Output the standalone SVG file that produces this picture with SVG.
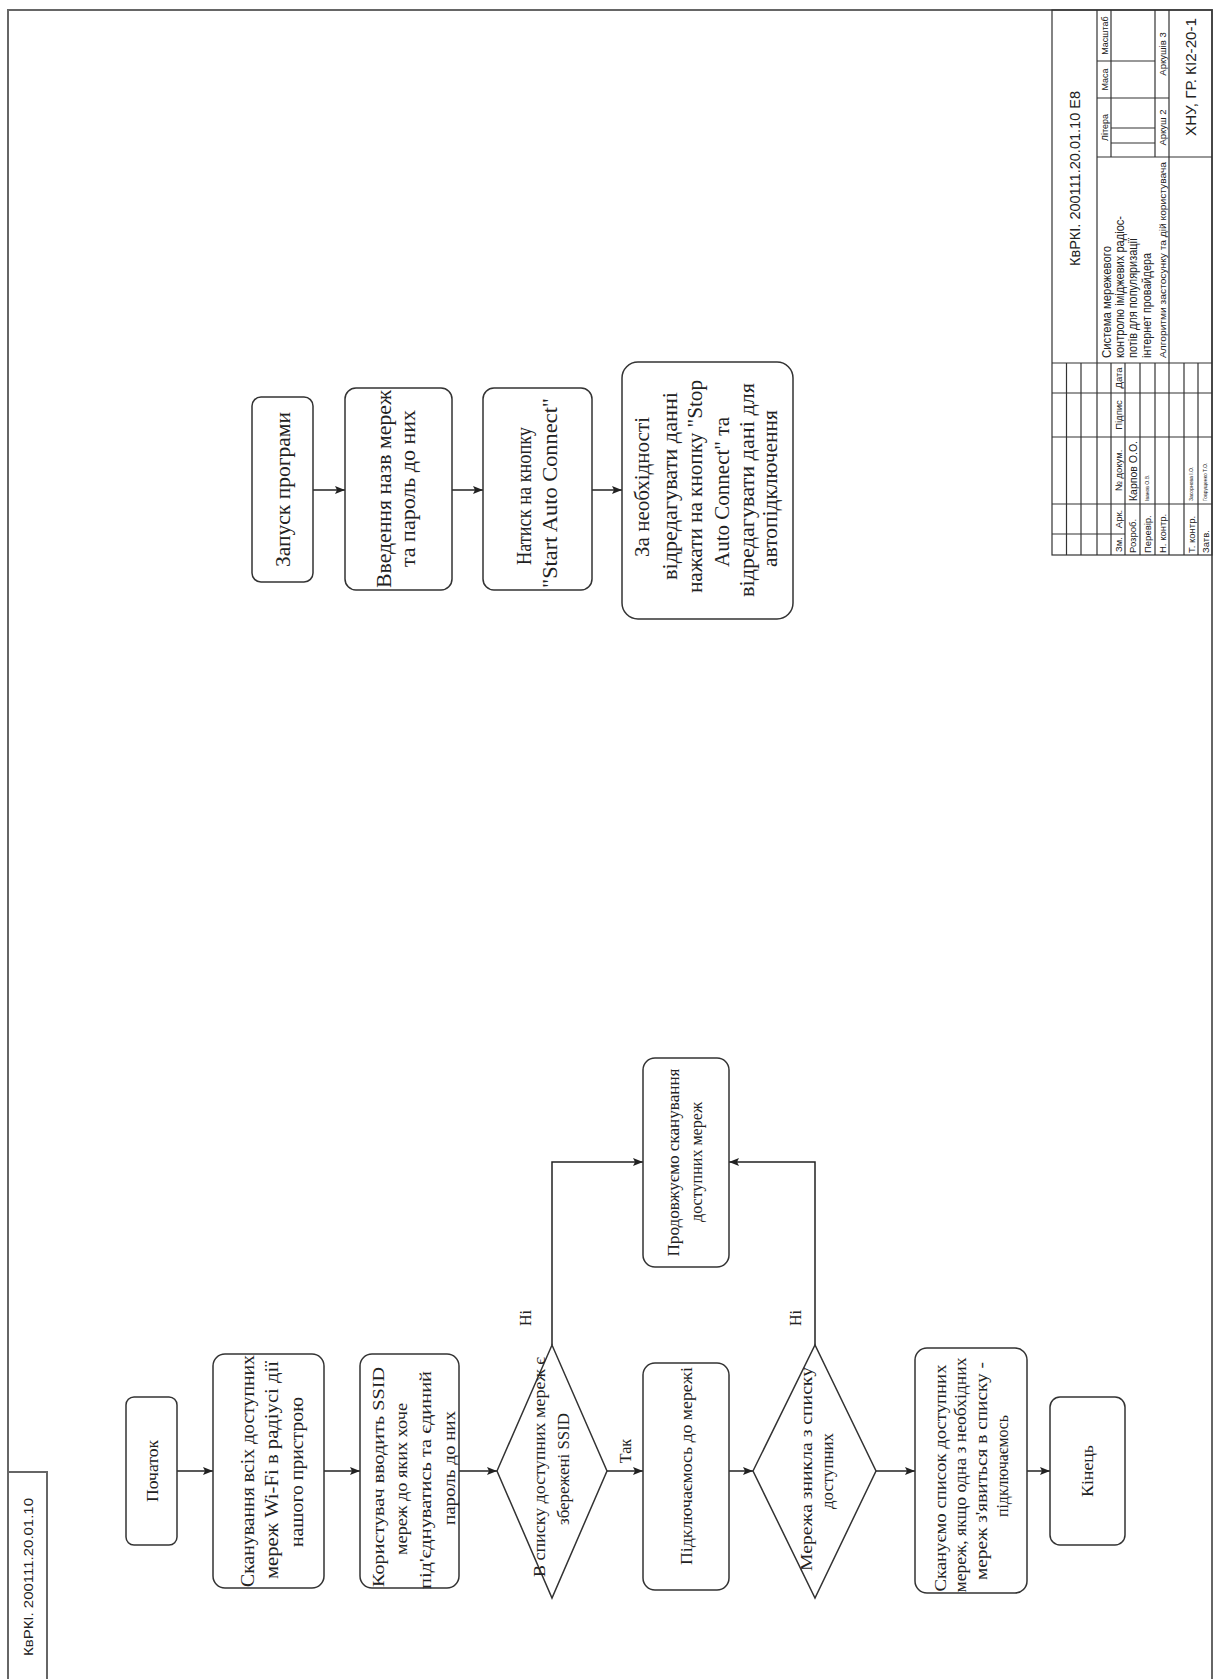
<svg xmlns="http://www.w3.org/2000/svg" width="1213" height="1679" viewBox="0 0 1213 1679">
<style>
.frame{fill:none;stroke:#666;stroke-width:2}
.tb{fill:none;stroke:#333;stroke-width:1.2}
.node{fill:#fff;stroke:#333;stroke-width:1.5}
.conn{fill:none;stroke:#222;stroke-width:1.5}
.ft{font-family:"Liberation Serif","Times New Roman",serif;fill:#222;text-anchor:middle}
.st{font-family:"Liberation Sans",Arial,sans-serif;fill:#222}
.mid{text-anchor:middle}
</style>
<defs>
<marker id="arr" markerWidth="11" markerHeight="9" refX="10" refY="4" orient="auto" markerUnits="userSpaceOnUse">
<path d="M0,0 L10,4 L0,8 L2,4 z" fill="#222"/>
</marker>
</defs>
<rect width="1213" height="1679" fill="#fff"/>
<rect class="frame" x="8" y="10" width="1204" height="1675"/>

<g id="stamp-left">
<rect class="frame" x="8" y="1472" width="39" height="213"/>
<text class="st mid" transform="translate(33 1577) rotate(-90)" font-size="13" textLength="158" lengthAdjust="spacingAndGlyphs">КвРКІ. 200111.20.01.10</text>
</g>

<g id="title-block">
<g class="tb">
<rect x="1052" y="10" width="160" height="545"/>
<line x1="1066.5" y1="363" x2="1066.5" y2="555"/>
<line x1="1081" y1="363" x2="1081" y2="555"/>
<line x1="1097" y1="10" x2="1097" y2="555"/>
<line x1="1111" y1="363" x2="1111" y2="555"/>
<line x1="1111" y1="10" x2="1111" y2="157"/>
<line x1="1125" y1="363" x2="1125" y2="555"/>
<line x1="1140" y1="363" x2="1140" y2="555"/>
<line x1="1155" y1="363" x2="1155" y2="555"/>
<line x1="1155" y1="10" x2="1155" y2="157"/>
<line x1="1169" y1="10" x2="1169" y2="555"/>
<line x1="1184" y1="363" x2="1184" y2="555"/>
<line x1="1198" y1="363" x2="1198" y2="555"/>
<line x1="1097" y1="61" x2="1155" y2="61"/>
<line x1="1097" y1="98" x2="1169" y2="98"/>
<line x1="1097" y1="157" x2="1212" y2="157"/>
<line x1="1111" y1="128" x2="1155" y2="128"/>
<line x1="1111" y1="143" x2="1155" y2="143"/>
<line x1="1052" y1="363" x2="1212" y2="363"/>
<line x1="1052" y1="393" x2="1212" y2="393"/>
<line x1="1052" y1="437" x2="1212" y2="437"/>
<line x1="1052" y1="504" x2="1212" y2="504"/>
<line x1="1052" y1="534" x2="1125" y2="534"/>
</g>
<g class="st" font-size="9.5">
<text class="mid" transform="translate(1080 178.5) rotate(-90)" font-size="15" textLength="175" lengthAdjust="spacingAndGlyphs">КвРКІ. 200111.20.01.10 Е8</text>
<text class="mid" transform="translate(1121.5 544.5) rotate(-90)">Зм.</text>
<text class="mid" transform="translate(1121.5 519) rotate(-90)">Арк.</text>
<text class="mid" transform="translate(1121.5 470.5) rotate(-90)">№ докум.</text>
<text class="mid" transform="translate(1121.5 415) rotate(-90)">Підпис</text>
<text class="mid" transform="translate(1121.5 378) rotate(-90)">Дата</text>
<text transform="translate(1136 553) rotate(-90)">Розроб.</text>
<text transform="translate(1136.5 501) rotate(-90)" font-size="10.5">Карпов О.О.</text>
<text transform="translate(1151 553) rotate(-90)">Перевір.</text>
<text transform="translate(1149 501) rotate(-90)" font-size="5">Іванов О.В.</text>
<text transform="translate(1165.5 553) rotate(-90)">Н. контр.</text>
<text transform="translate(1194.5 553) rotate(-90)">Т. контр.</text>
<text transform="translate(1193 501) rotate(-90)" font-size="5">Засорнова І.О.</text>
<text transform="translate(1208.5 553) rotate(-90)">Затв.</text>
<text transform="translate(1207 501) rotate(-90)" font-size="5">Говрущенко Т.О.</text>
<text transform="translate(1111 358) rotate(-90)" font-size="12" textLength="112" lengthAdjust="spacingAndGlyphs">Система мережевого</text>
<text transform="translate(1124 358) rotate(-90)" font-size="12" textLength="142" lengthAdjust="spacingAndGlyphs">контролю іміджевих радіос-</text>
<text transform="translate(1137 358) rotate(-90)" font-size="12" textLength="120" lengthAdjust="spacingAndGlyphs">потів для популяризації</text>
<text transform="translate(1151 358) rotate(-90)" font-size="12" textLength="105" lengthAdjust="spacingAndGlyphs">інтернет провайдера</text>
<text transform="translate(1165.5 358) rotate(-90)" font-size="9.5" textLength="196" lengthAdjust="spacingAndGlyphs">Алгоритми застосунку та дій користувача</text>
<text class="mid" transform="translate(1107.5 127.5) rotate(-90)" font-size="9">Літера</text>
<text class="mid" transform="translate(1107.5 79.5) rotate(-90)" font-size="9">Маса</text>
<text class="mid" transform="translate(1107.5 35.5) rotate(-90)" font-size="9">Масштаб</text>
<text class="mid" transform="translate(1165.5 127.5) rotate(-90)">Аркуш 2</text>
<text class="mid" transform="translate(1165.5 54) rotate(-90)">Аркушів 3</text>
<text class="mid" transform="translate(1196 77) rotate(-90)" font-size="15" textLength="118" lengthAdjust="spacingAndGlyphs">ХНУ, ГР. КІ2-20-1</text>
</g>
</g>

<g id="connectors" class="conn">
<line x1="313" y1="490" x2="345" y2="490" marker-end="url(#arr)"/>
<line x1="452" y1="490" x2="483" y2="490" marker-end="url(#arr)"/>
<line x1="592" y1="490" x2="622" y2="490" marker-end="url(#arr)"/>
<line x1="177" y1="1471" x2="213" y2="1471" marker-end="url(#arr)"/>
<line x1="324" y1="1471" x2="360" y2="1471" marker-end="url(#arr)"/>
<line x1="459" y1="1471" x2="497" y2="1471" marker-end="url(#arr)"/>
<line x1="607" y1="1471" x2="643" y2="1471" marker-end="url(#arr)"/>
<line x1="729" y1="1471" x2="753" y2="1471" marker-end="url(#arr)"/>
<line x1="876" y1="1471" x2="915" y2="1471" marker-end="url(#arr)"/>
<line x1="1027" y1="1471" x2="1050" y2="1471" marker-end="url(#arr)"/>
<polyline points="552,1345 552,1162 643,1162" marker-end="url(#arr)"/>
<polyline points="815,1345 815,1162 729,1162" marker-end="url(#arr)"/>
<text class="ft" stroke="none" transform="translate(630.5 1451) rotate(-90)" font-size="16">Так</text>
<text class="ft" stroke="none" transform="translate(530.5 1318) rotate(-90)" font-size="16">Ні</text>
<text class="ft" stroke="none" transform="translate(800.5 1318) rotate(-90)" font-size="16">Ні</text>
</g>

<g id="n-start-program">
<rect class="node" x="252" y="397" width="61" height="185" rx="9"/>
<text class="ft" font-size="20" transform="translate(290 489.5) rotate(-90)" textLength="155" lengthAdjust="spacingAndGlyphs">Запуск програми</text>
</g>
<g id="n-enter-names">
<rect class="node" x="345" y="388" width="107" height="202" rx="11"/>
<text class="ft" font-size="20" transform="translate(391 489) rotate(-90)" textLength="198" lengthAdjust="spacingAndGlyphs">Введення назв мереж</text>
<text class="ft" font-size="20" transform="translate(415 488.5) rotate(-90)" textLength="157" lengthAdjust="spacingAndGlyphs">та пароль до них</text>
</g>
<g id="n-press-start">
<rect class="node" x="483" y="388" width="109" height="202" rx="11"/>
<text class="ft" font-size="20" transform="translate(531 496) rotate(-90)" textLength="138" lengthAdjust="spacingAndGlyphs">Натиск на кнопку</text>
<text class="ft" font-size="20" transform="translate(557 493) rotate(-90)" textLength="190" lengthAdjust="spacingAndGlyphs">"Start Auto Connect"</text>
</g>
<g id="n-edit-stop">
<rect class="node" x="622" y="362" width="171" height="257" rx="16"/>
<text class="ft" font-size="20" transform="translate(649 487) rotate(-90)" textLength="140" lengthAdjust="spacingAndGlyphs">За необхідності</text>
<text class="ft" font-size="20" transform="translate(677 486) rotate(-90)" textLength="188" lengthAdjust="spacingAndGlyphs">відредагувати данні</text>
<text class="ft" font-size="20" transform="translate(702 486.5) rotate(-90)" textLength="213" lengthAdjust="spacingAndGlyphs">нажати на кнопку "Stop</text>
<text class="ft" font-size="20" transform="translate(729 492) rotate(-90)" textLength="150" lengthAdjust="spacingAndGlyphs">Auto Connect" та</text>
<text class="ft" font-size="20" transform="translate(754 490) rotate(-90)" textLength="214" lengthAdjust="spacingAndGlyphs">відредагувати дані для</text>
<text class="ft" font-size="20" transform="translate(777 488.5) rotate(-90)" textLength="157" lengthAdjust="spacingAndGlyphs">автопідключення</text>
</g>

<g id="n-begin">
<rect class="node" x="126" y="1397" width="51" height="148" rx="8"/>
<text class="ft" font-size="17" transform="translate(157.5 1471) rotate(-90)" textLength="62" lengthAdjust="spacingAndGlyphs">Початок</text>
</g>
<g id="n-scan-all">
<rect class="node" x="213" y="1354" width="111" height="234" rx="12"/>
<text class="ft" font-size="18" transform="translate(253.5 1471) rotate(-90)" textLength="232" lengthAdjust="spacingAndGlyphs">Сканування всіх доступних</text>
<text class="ft" font-size="18" transform="translate(278 1470) rotate(-90)" textLength="218" lengthAdjust="spacingAndGlyphs">мереж Wi-Fi в радіусі дії</text>
<text class="ft" font-size="18" transform="translate(302.5 1472) rotate(-90)" textLength="150" lengthAdjust="spacingAndGlyphs">нашого пристрою</text>
</g>
<g id="n-user-ssid">
<rect class="node" x="360" y="1354" width="99" height="234" rx="12"/>
<text class="ft" font-size="17.5" transform="translate(383.5 1477) rotate(-90)" textLength="220" lengthAdjust="spacingAndGlyphs">Користувач вводить SSID</text>
<text class="ft" font-size="17.5" transform="translate(407.2 1479) rotate(-90)" textLength="152" lengthAdjust="spacingAndGlyphs">мереж до яких хоче</text>
<text class="ft" font-size="17.5" transform="translate(430.9 1480) rotate(-90)" textLength="218" lengthAdjust="spacingAndGlyphs">під'єднуватись та єдиний</text>
<text class="ft" font-size="17.5" transform="translate(454.6 1468) rotate(-90)" textLength="114" lengthAdjust="spacingAndGlyphs">пароль до них</text>
</g>
<g id="n-decision-saved">
<polygon class="node" points="497,1471 552,1345 607,1471 552,1598"/>
<text class="ft" font-size="16.5" transform="translate(545 1467) rotate(-90)" textLength="220" lengthAdjust="spacingAndGlyphs">В списку доступних мереж є</text>
<text class="ft" font-size="16.5" transform="translate(569 1469) rotate(-90)" textLength="112" lengthAdjust="spacingAndGlyphs">збережені SSID</text>
</g>
<g id="n-continue-scan">
<rect class="node" x="643" y="1058" width="86" height="209" rx="12"/>
<text class="ft" font-size="17" transform="translate(678.5 1162.5) rotate(-90)" textLength="188" lengthAdjust="spacingAndGlyphs">Продовжуємо сканування</text>
<text class="ft" font-size="17" transform="translate(701.5 1162) rotate(-90)" textLength="120" lengthAdjust="spacingAndGlyphs">доступних мереж</text>
</g>
<g id="n-connect">
<rect class="node" x="643" y="1363" width="86" height="227" rx="12"/>
<text class="ft" font-size="17" transform="translate(692 1466) rotate(-90)" textLength="198" lengthAdjust="spacingAndGlyphs">Підключаємось до мережі</text>
</g>
<g id="n-decision-lost">
<polygon class="node" points="753,1471 815,1345 876,1471 815,1598"/>
<text class="ft" font-size="17" transform="translate(812 1469) rotate(-90)" textLength="204" lengthAdjust="spacingAndGlyphs">Мережа зникла з списку</text>
<text class="ft" font-size="17" transform="translate(833 1471) rotate(-90)" textLength="76" lengthAdjust="spacingAndGlyphs">доступних</text>
</g>
<g id="n-rescan">
<rect class="node" x="915" y="1348" width="112" height="245" rx="12"/>
<text class="ft" font-size="16.5" transform="translate(945.5 1478) rotate(-90)" textLength="227" lengthAdjust="spacingAndGlyphs">Скануємо список доступних</text>
<text class="ft" font-size="16.5" transform="translate(966.2 1475) rotate(-90)" textLength="235" lengthAdjust="spacingAndGlyphs">мереж, якщо одна з необхідних</text>
<text class="ft" font-size="16.5" transform="translate(986.9 1471) rotate(-90)" textLength="218" lengthAdjust="spacingAndGlyphs">мереж з'явиться в списку -</text>
<text class="ft" font-size="16.5" transform="translate(1007.6 1466) rotate(-90)" textLength="102" lengthAdjust="spacingAndGlyphs">підключаємось</text>
</g>
<g id="n-end">
<rect class="node" x="1050" y="1397" width="75" height="148" rx="10"/>
<text class="ft" font-size="17" transform="translate(1093 1471) rotate(-90)" textLength="52" lengthAdjust="spacingAndGlyphs">Кінець</text>
</g>
</svg>
